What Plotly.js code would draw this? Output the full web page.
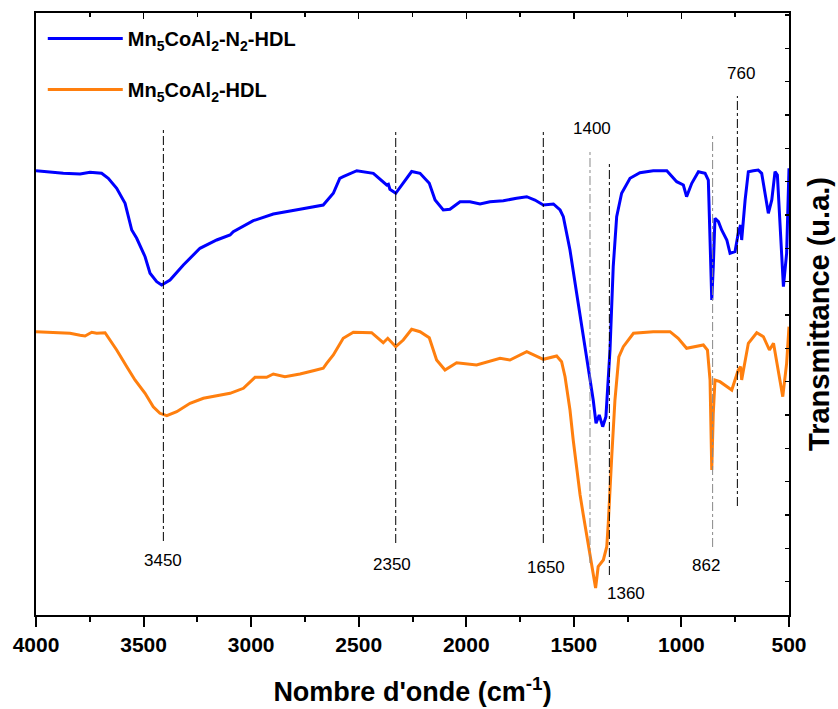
<!DOCTYPE html>
<html>
<head>
<meta charset="utf-8">
<script src="https://cdn.plot.ly/plotly-3.0.1.min.js"></script>
<style>html,body{margin:0;padding:0;background:#fff}#chart{width:838px;height:709px}</style>
</head>
<body>
<div id="chart"></div>
<script>
// ---- Data (wavenumber in cm-1, transmittance in arbitrary units) ----
const blueName = 'Mn<sub>5</sub>CoAl<sub>2</sub>-N<sub>2</sub>-HDL';
const orangeName = 'Mn<sub>5</sub>CoAl<sub>2</sub>-HDL';

const blueWn = [4000,3873,3795,3749,3695,3664,3625,3586,3555,3532,3493,3470,3439,3416,3377,3315,3238,3160,3098,3083,2990,2897,2773,2665,2618,2588,2572,2509,2432,2378,2370,2362,2355,2328,2293,2254,2215,2172,2145,2107,2076,2029,1983,1936,1890,1828,1766,1719,1681,1642,1595,1564,1549,1533,1518,1487,1456,1425,1410,1397,1382,1366,1351,1332,1317,1301,1278,1239,1193,1131,1068,1022,991,976,952,921,890,875,867,859,852,844,828,813,789,774,751,736,725,720,704,689,666,643,627,611,596,580,565,554,541,526,511,500];
const blueT  = [444.3,441.7,441,442.7,441.7,436.7,426.7,411.7,385,376.7,358.3,341.7,333.3,330,335,350,366.7,375,380,383.3,394.3,401,405.7,410,421.7,436.7,438.3,444.3,441.7,430.7,430,430.7,425.7,421.7,431.7,443.5,441.7,431.7,415,405,405.7,413.3,413.3,411,413.3,414.3,416.7,418.3,415,410,411,405,398.3,381.7,365,321.7,278.3,235,215,191.7,200,188.3,198.3,265,348.3,398.3,421.7,436.7,442.3,444.3,444.3,433.3,430,418.3,431.7,443.3,441.7,435,382,315,348.3,396.7,393.3,385,375,361.7,363.3,381.7,390,375,415,443.3,444.3,445,441.7,421.7,401.7,415,443.3,440,381.7,328.3,361.7,446.7];

const orangeWn = [4000,3842,3795,3772,3741,3718,3679,3625,3578,3540,3493,3455,3424,3392,3346,3284,3222,3160,3098,3036,2982,2928,2897,2843,2773,2711,2665,2649,2618,2572,2525,2440,2386,2365,2328,2293,2254,2215,2172,2138,2099,2045,1952,1843,1797,1719,1642,1580,1557,1541,1518,1503,1487,1471,1456,1433,1410,1399,1387,1363,1347,1340,1324,1309,1291,1270,1223,1131,1053,1015,976,898,879,867,859,852,844,821,766,736,725,720,689,650,619,591,572,549,529,511,500];
const orangeT  = [283.3,281.7,279.7,279,282.7,281.7,282.3,265,248.3,235,221.7,208.3,201.7,199.3,203.3,211.7,216.7,219,221.7,226.7,237.7,237.7,241,238.3,241,244.3,246.7,251.7,260,276.7,282.7,282.3,272.3,276.7,268.3,275,285.7,283.3,277.3,255,245,252.3,250,256.7,255,263.3,255.7,259,253.3,238.3,205,175,145,120,100,70,43,27,48.3,55,68.3,92,158,215,258,268.3,281.7,283.3,283.3,276.7,266.7,270,265,235,145,201.7,235,233.3,225,245,248.3,235,271.7,282.3,278.3,265,271.7,241.7,218.3,251.7,288.3];

// Peak markers: wavenumber of the dash-dot guide, its label
const peakLabels = ['3450','2350','1650','1400','1360','862','760'];
const peakLineWn = [3408,2328,1642,1425,1335,855,740];

// ---- Layout helpers (positions / styles) ----
const lineTop    = [485,483,483,463,451,479,519];
const lineBottom = [74,72,72,52,40,68,109];
const lineColor  = ['#000','#000','#000','#888','#000','#888','#000'];
const labelWn    = [3410,2345,1631,1414,1259,887,724];
const labelT     = [55,51,48,487,22,49.3,542];

const FONT = 'Liberation Sans, Arial, sans-serif';

const traces = [
  {x: blueWn, y: blueT, type: 'scatter', mode: 'lines', name: blueName,
   line: {color: '#0000ff', width: 3}, legendgroup: 'a'},
  {x: orangeWn, y: orangeT, type: 'scatter', mode: 'lines', name: orangeName,
   line: {color: '#ff7f0e', width: 3}, legendgroup: 'b'}
];

const shapes = peakLineWn.map((w, i) => ({
  type: 'line', xref: 'x', yref: 'y', x0: w, x1: w, y0: lineBottom[i], y1: lineTop[i],
  line: {color: lineColor[i], width: 1, dash: 'dashdot'}
}));

const annotations = peakLabels.map((t, i) => ({
  x: labelWn[i], y: labelT[i], xref: 'x', yref: 'y', text: t, showarrow: false,
  font: {family: FONT, size: 17, color: '#000'}
}));

const layout = {
  width: 838, height: 709,
  margin: {l: 36, r: 49, t: 13, b: 94},
  paper_bgcolor: '#fff', plot_bgcolor: '#fff',
  showlegend: true,
  legend: {x: 0.009, y: 0.99, xanchor: 'left', yanchor: 'top',
    font: {family: FONT, size: 20, color: '#000', weight: 'bold'},
    bgcolor: 'rgba(0,0,0,0)', traceorder: 'grouped', tracegroupgap: 22, itemwidth: 75},
  xaxis: {
    range: [4000, 500], autorange: false,
    showline: true, linecolor: '#000', linewidth: 2, mirror: true,
    showgrid: false, zeroline: false,
    ticks: 'outside', ticklen: 10, tickwidth: 2, tickcolor: '#000', dtick: 500, tick0: 500,
    minor: {dtick: 250, ticks: 'outside', ticklen: 5, tickwidth: 2, tickcolor: '#000', showgrid: false},
    tickfont: {family: FONT, size: 21, color: '#000', weight: 'bold'},
    title: {text: "Nombre d'onde (cm<sup>-1</sup>)", font: {family: FONT, size: 27, color: '#000', weight: 'bold'}, standoff: 27}
  },
  xaxis2: {
    overlaying: 'x', side: 'top', anchor: 'y', matches: 'x',
    range: [4000, 500], autorange: false,
    showline: false, showgrid: false, zeroline: false, showticklabels: false,
    ticks: 'inside', ticklen: 6, tickwidth: 1.5, tickcolor: '#000', dtick: 500, tick0: 500,
    minor: {dtick: 250, ticks: 'inside', ticklen: 4, tickwidth: 1.5, tickcolor: '#000', showgrid: false}
  },
  yaxis: {
    range: [0, 602], autorange: false, side: 'right',
    showline: true, linecolor: '#000', linewidth: 2, mirror: true,
    showgrid: false, zeroline: false, showticklabels: false,
    ticks: 'inside', ticklen: 4, tickwidth: 1.5, tickcolor: '#000', dtick: 33.33, tick0: 0,
    title: {text: 'Transmittance (u.a.)', font: {family: FONT, size: 29, color: '#000', weight: 'bold'}, standoff: 19}
  },
  shapes: shapes,
  annotations: annotations
};

// invisible trace to anchor the top tick axis
traces.push({x: [4000, 500], y: [0, 0], xaxis: 'x2', yaxis: 'y', mode: 'lines',
  line: {width: 0}, showlegend: false, hoverinfo: 'skip'});

Plotly.newPlot('chart', traces, layout, {displayModeBar: false, staticPlot: true});
</script>
</body>
</html>
